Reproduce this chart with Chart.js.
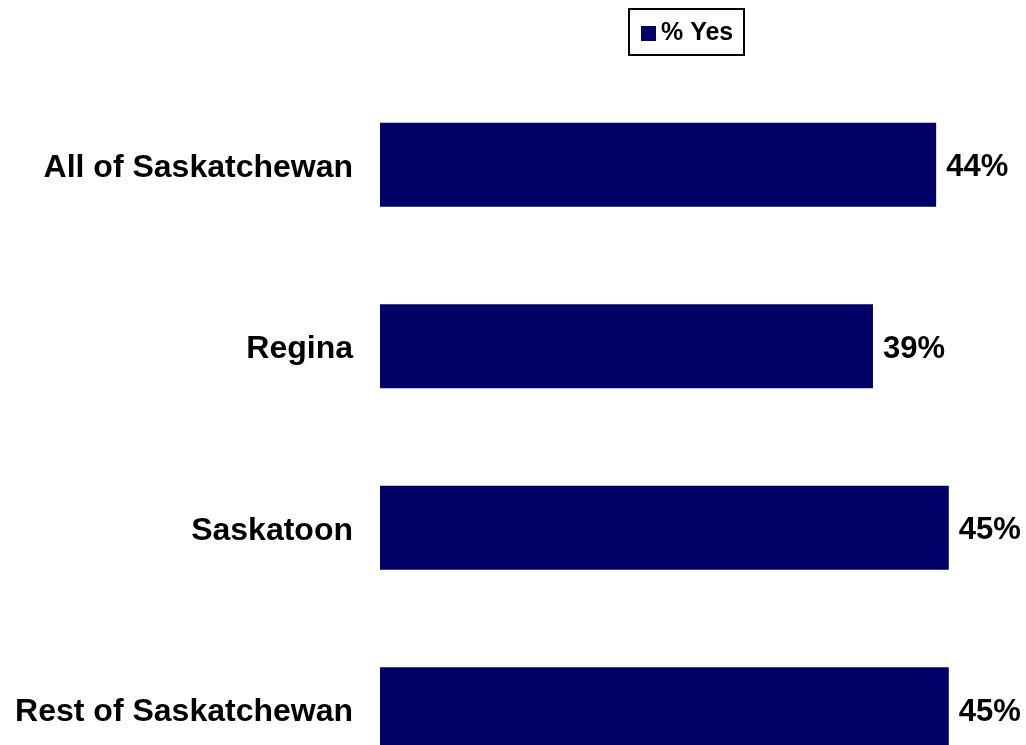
<!DOCTYPE html>
<html>
<head>
<meta charset="utf-8">
<script src="https://cdn.jsdelivr.net/npm/chart.js@4.4.0/dist/chart.umd.min.js"></script>
<style>
  html, body { margin: 0; padding: 0; background: #ffffff; }
  canvas { display: block; }
</style>
</head>
<body>
<canvas id="c" width="1026" height="745"></canvas>
<script>
const categories = ["All of Saskatchewan", "Regina", "Saskatoon", "Rest of Saskatchewan"];
const yesValues = [44, 39, 45, 45];
const seriesName = "% Yes";
const barColor = "#000066";
const FONT = "'Liberation Sans', Arial, Helvetica, sans-serif";

// The reference crops the last category band at the bottom edge:
// extend the category scale's pixel range below the canvas.
const extendBands = {
  id: 'extendBands',
  afterLayout(chart) {
    const y = chart.scales.y;
    const newBottom = 800;
    y.bottom = newBottom;
    y.height = newBottom - y.top;
    y.configure();
    chart.chartArea.bottom = newBottom;
    chart.chartArea.height = newBottom - chart.chartArea.top;
  }
};

const valueLabels = {
  id: 'valueLabels',
  afterDatasetsDraw(chart) {
    const ctx = chart.ctx;
    const meta = chart.getDatasetMeta(0);
    ctx.save();
    ctx.font = "bold 31px " + FONT;
    ctx.fillStyle = "#000000";
    ctx.textAlign = "left";
    ctx.textBaseline = "middle";
    meta.data.forEach((bar, i) => {
      ctx.fillText(chart.data.datasets[0].data[i] + "%", bar.x + 10, bar.y + 3);
    });
    ctx.restore();
  }
};

const boxLegend = {
  id: 'boxLegend',
  afterDraw(chart) {
    const ctx = chart.ctx;
    const ds = chart.data.datasets[0];
    ctx.save();
    ctx.lineWidth = 2;
    ctx.strokeStyle = "#000000";
    ctx.strokeRect(629, 9, 115, 46);
    ctx.fillStyle = ds.backgroundColor;
    ctx.fillRect(641, 26, 15, 15);
    ctx.font = "bold 25px " + FONT;
    ctx.fillStyle = "#000000";
    ctx.textAlign = "left";
    ctx.textBaseline = "middle";
    ctx.fillText(ds.label, 661, 33);
    ctx.restore();
  }
};

new Chart(document.getElementById('c'), {
  type: 'bar',
  data: {
    labels: categories,
    datasets: [{
      label: seriesName,
      data: yesValues,
      backgroundColor: barColor,
      borderWidth: 0,
      clip: false,
      categoryPercentage: 1.0,
      barPercentage: 0.463
    }]
  },
  options: {
    indexAxis: 'y',
    responsive: false,
    animation: false,
    devicePixelRatio: 1,
    layout: { padding: { top: 74, right: 14, bottom: 0, left: 0 } },
    plugins: { legend: { display: false }, tooltip: { enabled: false } },
    scales: {
      x: {
        display: false,
        min: 0,
        max: 50
      },
      y: {
        offset: true,
        grid: { display: false, drawTicks: false },
        border: { display: false },
        afterFit(scale) { scale.width = 380; },
        ticks: {
          color: "#000000",
          padding: 27,
          labelOffset: 3,
          font: { family: FONT, size: 32, weight: 'bold' }
        }
      }
    }
  },
  plugins: [extendBands, valueLabels, boxLegend]
});
</script>
</body>
</html>
